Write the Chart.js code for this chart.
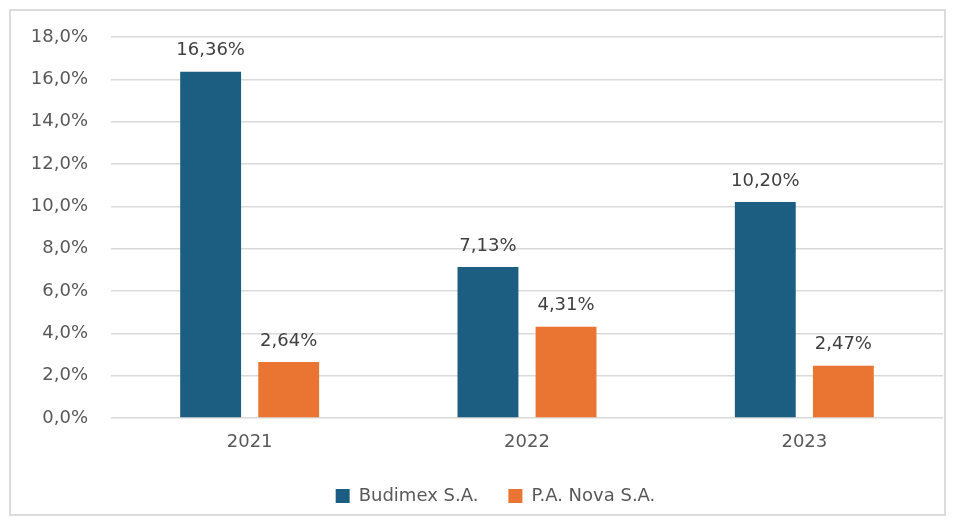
<!DOCTYPE html>
<html>
<head>
<meta charset="utf-8">
<script src="https://cdn.jsdelivr.net/npm/chart.js@4"></script>
<style>
  body { margin: 0; background: #fff; }
  #wrap { width: 956px; height: 519px; }
</style>
</head>
<body>
<div id="wrap"><canvas id="chart"></canvas></div>
<script>
var years = ["2021", "2022", "2023"];
var budimex = [16.36, 7.13, 10.20];
var paNova = [2.64, 4.31, 2.47];
var seriesNames = ["Budimex S.A.", "P.A. Nova S.A."];

function plPct(v, d) {
    return v.toFixed(d).replace('.', ',') + '%';
}

// grey frame around the whole picture
var frame = {
    id: 'frame',
    beforeDraw: function (chart) {
        var ctx = chart.ctx;
        ctx.save();
        ctx.fillStyle = '#fff';
        ctx.fillRect(0, 0, chart.width, chart.height);
        ctx.strokeStyle = '#dcdcdc';
        ctx.lineWidth = 2;
        ctx.strokeRect(10, 10, chart.width - 21, chart.height - 14);
        ctx.restore();
    }
};

// legend sits a bit right of the canvas centre in the original
var legendShift = {
    id: 'legendShift',
    afterLayout: function (chart) {
        chart.legend.left += 10;
        chart.legend.right += 10;
    }
};

// value labels above the bars
var barLabels = {
    id: 'barLabels',
    afterDatasetsDraw: function (chart) {
        var ctx = chart.ctx;
        ctx.save();
        ctx.font = '18px "DejaVu Sans"';
        ctx.fillStyle = '#404040';
        ctx.textAlign = 'center';
        ctx.textBaseline = 'bottom';
        chart.data.datasets.forEach(function (ds, i) {
            chart.getDatasetMeta(i).data.forEach(function (bar, j) {
                ctx.fillText(plPct(ds.data[j], 2), bar.x, bar.y - 12);
            });
        });
        ctx.restore();
    }
};

const ctx = document.getElementById('chart');
var chart = new Chart(ctx, {
    type: 'bar',
    data: {
        labels: years,
        datasets: [
            { label: seriesNames[0], data: budimex, backgroundColor: '#1b5e82' },
            { label: seriesNames[1], data: paNova, backgroundColor: '#ea7432' }
        ]
    },
    options: {
        responsive: true,
        maintainAspectRatio: false,
        animation: false,
        layout: { padding: { top: 37, right: 13, bottom: 4, left: 28 } },
        datasets: { bar: { categoryPercentage: 0.563, barPercentage: 0.78 } },
        scales: {
            y: {
                min: 0, max: 18,
                ticks: {
                    stepSize: 2,
                    padding: 23,
                    color: '#595959',
                    font: { family: 'DejaVu Sans', size: 18 },
                    callback: function (v) { return plPct(v, 1); }
                },
                grid: { color: '#d9d9d9', lineWidth: 1.5, drawTicks: false },
                border: { display: false },
                afterFit: function (s) { s.width = 83; }
            },
            x: {
                ticks: {
                    padding: 14,
                    color: '#595959',
                    font: { family: 'DejaVu Sans', size: 18 }
                },
                grid: { display: false, drawTicks: false },
                border: { display: false },
                afterFit: function (s) { s.height = 39; }
            }
        },
        plugins: {
            legend: {
                position: 'bottom',
                labels: {
                    boxWidth: 14, boxHeight: 14, padding: 30,
                    color: '#595959',
                    font: { family: 'DejaVu Sans', size: 18 }
                }
            },
            tooltip: { enabled: false }
        }
    },
    plugins: [frame, legendShift, barLabels]
});
</script>
</body>
</html>
